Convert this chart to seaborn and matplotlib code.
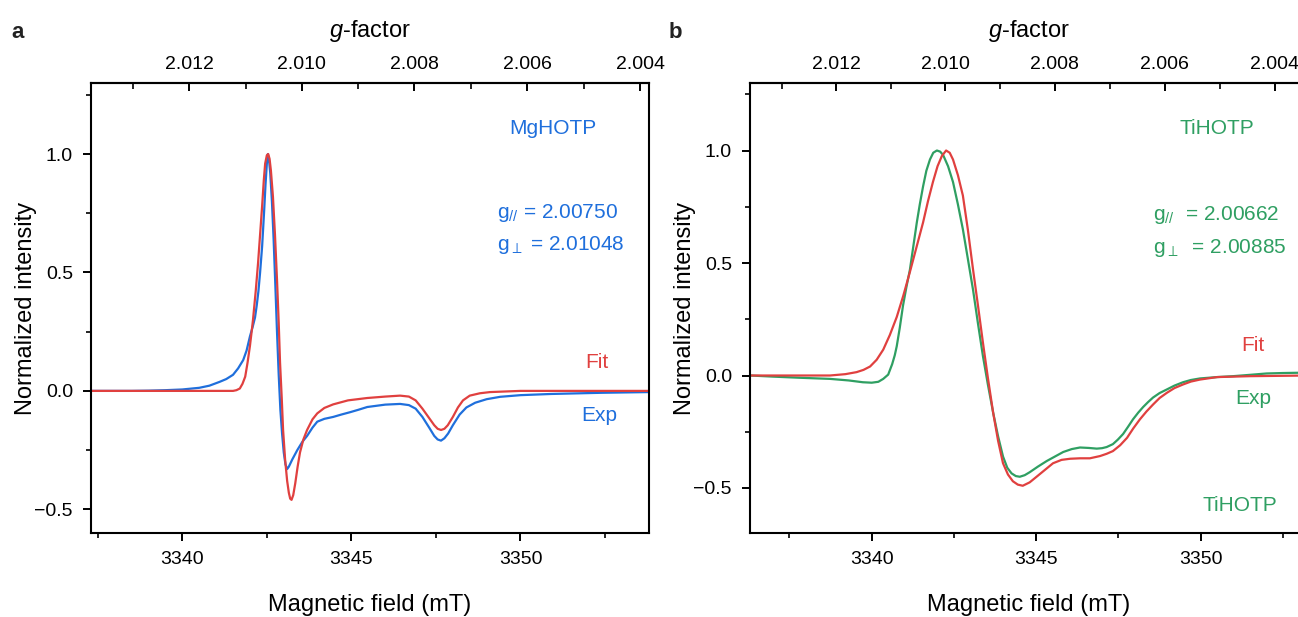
import numpy as np
import pandas as pd
import matplotlib
matplotlib.use("Agg")
import matplotlib.pyplot as plt
import seaborn as sns
from matplotlib.ticker import MultipleLocator, FixedLocator, FormatStrFormatter, FuncFormatter

# ---------------- data ----------------
# Panel a : MgHOTP, experiment
a_exp_field = [3337.3, 3338.5, 3339.0, 3339.5, 3340.0, 3340.5, 3340.8, 3341.1, 3341.3, 3341.5,
               3341.65, 3341.8, 3341.9, 3342.0, 3342.08, 3342.15, 3342.2, 3342.25, 3342.3,
               3342.36, 3342.42, 3342.46, 3342.5, 3342.53, 3342.56, 3342.6, 3342.65, 3342.7,
               3342.75, 3342.8, 3342.85, 3342.9, 3342.95, 3343.0, 3343.05, 3343.1, 3343.15,
               3343.25, 3343.4, 3343.55, 3343.69, 3343.85, 3343.99, 3344.2, 3344.46, 3344.7,
               3344.96, 3345.2, 3345.47, 3346.0, 3346.44, 3346.7, 3346.9, 3347.1, 3347.3,
               3347.45, 3347.55, 3347.65, 3347.75, 3347.86, 3348.0, 3348.2, 3348.4, 3348.66,
               3349.0, 3349.4, 3350.0, 3350.9, 3352.4, 3353.8]
a_exp_int = [0.0, 0.0, 0.001, 0.003, 0.006, 0.013, 0.022, 0.038, 0.05, 0.068,
             0.095, 0.13, 0.17, 0.23, 0.27, 0.31, 0.36, 0.42, 0.50,
             0.61, 0.76, 0.87, 0.96, 1.0, 0.98, 0.92, 0.80, 0.64,
             0.45, 0.25, 0.07, -0.08, -0.18, -0.26, -0.31, -0.33, -0.32,
             -0.29, -0.25, -0.215, -0.19, -0.155, -0.13, -0.118, -0.11, -0.10,
             -0.09, -0.08, -0.068, -0.058, -0.055, -0.06, -0.075, -0.11, -0.155,
             -0.19, -0.205, -0.21, -0.2, -0.18, -0.145, -0.10, -0.07, -0.05,
             -0.035, -0.025, -0.018, -0.013, -0.008, -0.005]

# Panel a : fit
a_fit_field = [3337.3, 3340.0, 3341.5, 3341.6, 3341.7, 3341.78, 3341.86, 3341.93, 3342.0,
               3342.05, 3342.09, 3342.17, 3342.24, 3342.3, 3342.36, 3342.41, 3342.45, 3342.5,
               3342.54, 3342.58, 3342.62, 3342.68, 3342.74, 3342.8, 3342.85, 3342.89, 3342.94,
               3342.98, 3343.04, 3343.1, 3343.15, 3343.19, 3343.23, 3343.28, 3343.34, 3343.41,
               3343.48, 3343.58, 3343.69, 3343.85, 3343.99, 3344.2, 3344.46, 3344.9, 3345.47,
               3346.0, 3346.44, 3346.7, 3346.9, 3347.1, 3347.3, 3347.45, 3347.55, 3347.65,
               3347.75, 3347.85, 3348.0, 3348.15, 3348.3, 3348.5, 3348.8, 3349.1, 3350.0, 3353.8]
a_fit_int = [0.0, 0.0, 0.0, 0.003, 0.01, 0.03, 0.06, 0.12, 0.19,
             0.25, 0.30, 0.42, 0.54, 0.66, 0.78, 0.89, 0.96, 0.995,
             1.0, 0.98, 0.93, 0.82, 0.66, 0.47, 0.29, 0.12, -0.03,
             -0.165, -0.29, -0.38, -0.43, -0.455, -0.46, -0.44, -0.39, -0.32,
             -0.26, -0.205, -0.165, -0.12, -0.095, -0.072, -0.057, -0.04, -0.03,
             -0.024, -0.02, -0.024, -0.04, -0.075, -0.115, -0.145, -0.16, -0.165,
             -0.16, -0.145, -0.11, -0.07, -0.04, -0.02, -0.01, -0.005, 0.0, 0.0]

# Panel b : TiHOTP, experiment
b_exp_field = [3336.3, 3337.0, 3337.8, 3338.73, 3339.3, 3339.73, 3340.0, 3340.2, 3340.35,
               3340.5, 3340.62, 3340.7, 3340.76, 3340.85, 3340.95, 3341.05, 3341.16, 3341.27,
               3341.37, 3341.46, 3341.56, 3341.66, 3341.77, 3341.87, 3341.98, 3342.08, 3342.17,
               3342.32, 3342.47, 3342.62, 3342.77, 3342.92, 3343.08, 3343.23, 3343.38, 3343.53,
               3343.69, 3343.84, 3343.99, 3344.12, 3344.25, 3344.38, 3344.5, 3344.65, 3344.8,
               3345.05, 3345.32, 3345.57, 3345.82, 3346.08, 3346.33, 3346.6, 3346.84, 3347.0,
               3347.14, 3347.33, 3347.48, 3347.64, 3347.79, 3347.94, 3348.1, 3348.25, 3348.4,
               3348.55, 3348.75, 3348.97, 3349.2, 3349.46, 3349.7, 3349.98, 3350.5, 3350.98,
               3351.5, 3352.0, 3352.5, 3353.3]
b_exp_int = [0.0, -0.005, -0.01, -0.015, -0.022, -0.03, -0.032, -0.028, -0.015,
             0.004, 0.05, 0.09, 0.13, 0.21, 0.31, 0.39, 0.47, 0.58,
             0.68, 0.76, 0.84, 0.91, 0.96, 0.99, 1.0, 0.995, 0.98,
             0.93, 0.86, 0.76, 0.65, 0.52, 0.38, 0.23, 0.086, -0.04,
             -0.165, -0.27, -0.36, -0.41, -0.435, -0.447, -0.45, -0.443, -0.43,
             -0.405, -0.38, -0.36, -0.34, -0.327, -0.32, -0.322, -0.325, -0.323,
             -0.318, -0.305, -0.285, -0.26, -0.228, -0.195, -0.165, -0.14, -0.118,
             -0.098, -0.078, -0.062, -0.045, -0.03, -0.02, -0.013, -0.007, -0.003,
             0.003, 0.009, 0.011, 0.013]

# Panel b : fit
b_fit_field = [3336.3, 3338.73, 3339.2, 3339.54, 3339.75, 3339.95, 3340.15, 3340.35, 3340.55,
               3340.76, 3340.96, 3341.16, 3341.36, 3341.56, 3341.71, 3341.86, 3342.0, 3342.13,
               3342.26, 3342.37, 3342.47, 3342.62, 3342.77, 3342.92, 3343.08, 3343.23, 3343.38,
               3343.53, 3343.69, 3343.84, 3343.99, 3344.14, 3344.29, 3344.44, 3344.59, 3344.8,
               3345.01, 3345.26, 3345.51, 3345.77, 3346.03, 3346.33, 3346.63, 3346.94, 3347.14,
               3347.33, 3347.55, 3347.76, 3347.95, 3348.15, 3348.35, 3348.55, 3348.75, 3348.97,
               3349.2, 3349.46, 3349.7, 3349.98, 3350.5, 3351.5, 3353.3]
b_fit_int = [0.0, 0.0, 0.006, 0.015, 0.025, 0.04, 0.07, 0.115, 0.18,
             0.26, 0.355, 0.46, 0.57, 0.68, 0.775, 0.86, 0.93, 0.975,
             1.0, 0.99, 0.96, 0.89, 0.80, 0.65, 0.47, 0.31, 0.146,
             -0.01, -0.165, -0.29, -0.39, -0.44, -0.47, -0.485, -0.49, -0.475,
             -0.45, -0.42, -0.39, -0.375, -0.37, -0.368, -0.368, -0.358, -0.348,
             -0.336, -0.31, -0.277, -0.235, -0.195, -0.16, -0.129, -0.1, -0.077,
             -0.056, -0.04, -0.027, -0.018, -0.007, -0.003, 0.0]

g_ticks = [2.012, 2.010, 2.008, 2.006, 2.004]
g_minor = [2.013, 2.011, 2.009, 2.007, 2.005, 2.003]
field_ticks = [3340, 3345, 3350]
# field (mT) * g = h*nu/muB  (constants of the two measurements)
C_a = 6720.5
C_b = 6717.9

# ---------------- style ----------------
sns.set_theme(style="ticks")
plt.rcParams["font.family"] = ["Liberation Sans", "DejaVu Sans"]
plt.rcParams["mathtext.fontset"] = "custom"
plt.rcParams["mathtext.rm"] = "Liberation Sans"
plt.rcParams["mathtext.it"] = "Liberation Sans:italic"
plt.rcParams["mathtext.bf"] = "Liberation Sans:bold"
plt.rcParams["text.color"] = "black"
plt.rcParams["axes.labelcolor"] = "black"
plt.rcParams["xtick.color"] = "black"
plt.rcParams["ytick.color"] = "black"

BLUE = "#1f6fdc"
RED = "#e0403f"
GREEN = "#2f9f62"

W, H = 1298, 617
fig = plt.figure(figsize=(W / 100, H / 100), dpi=100)

def px_axes(x0, x1, y0, y1):
    return fig.add_axes([x0 / W, 1 - y1 / H, (x1 - x0) / W, (y1 - y0) / H])

ax_a = px_axes(91, 649, 83, 533)
ax_b = px_axes(750, 1308, 83, 533)

minus_fmt = FuncFormatter(lambda v, p: f"{v:.1f}".replace("-", "\u2212"))

def style_axes(ax, xlim, ylim, C):
    ax.set_xlim(*xlim)
    ax.set_ylim(*ylim)
    ax.xaxis.set_major_locator(FixedLocator(field_ticks))
    ax.xaxis.set_minor_locator(MultipleLocator(2.5))
    ax.yaxis.set_major_locator(MultipleLocator(0.5))
    ax.yaxis.set_minor_locator(MultipleLocator(0.25))
    ax.yaxis.set_major_formatter(minus_fmt)
    for s in ax.spines.values():
        s.set_linewidth(1.5)
        s.set_color("black")
    ax.tick_params(which="major", direction="out", length=6, width=1.4, labelsize=14,
                   colors="black", pad=7)
    ax.tick_params(which="minor", direction="out", length=3.6, width=1.2, colors="black")
    ax.set_xlabel("Magnetic field (mT)", fontsize=17, labelpad=19)
    ax.set_ylabel("Normalized intensity", fontsize=17, labelpad=-2)
    sec = ax.secondary_xaxis("top", functions=(lambda B: C / B, lambda g: C / g))
    sec.xaxis.set_major_locator(FixedLocator(g_ticks))
    sec.xaxis.set_minor_locator(FixedLocator(g_minor))
    sec.xaxis.set_major_formatter(FormatStrFormatter("%.3f"))
    sec.tick_params(which="major", direction="in", length=6, width=1.4, labelsize=14,
                    colors="black", pad=7)
    sec.tick_params(which="minor", direction="in", length=4.5, width=1.2, colors="black")
    sec.spines["top"].set_linewidth(1.5)
    sec.set_xlabel("$g$-factor", fontsize=17, labelpad=14)
    return sec

def draw(ax, field, inten, color):
    df = pd.DataFrame({"field": field, "intensity": inten})
    sns.lineplot(data=df, x="field", y="intensity", ax=ax, color=color, lw=1.6,
                 estimator=None, sort=False)

draw(ax_a, a_exp_field, a_exp_int, BLUE)
draw(ax_a, a_fit_field, a_fit_int, RED)
style_axes(ax_a, (3337.3, 3353.8), (-0.6, 1.3), C_a)

draw(ax_b, b_exp_field, b_exp_int, GREEN)
draw(ax_b, b_fit_field, b_fit_int, RED)
style_axes(ax_b, (3336.3, 3353.26), (-0.7, 1.3), C_b)

# ---------------- annotations ----------------
def t(ax, x, y, s, color, ha="center"):
    ax.text(x, y, s, color=color, fontsize=15, ha=ha, va="center", transform=ax.transAxes)

t(ax_a, 0.828, 0.90, "MgHOTP", BLUE)
t(ax_a, 0.728, 0.711, "g$_{//}$ = 2.00750", BLUE, ha="left")
t(ax_a, 0.728, 0.640, r"g$_{\perp}$ = 2.01048", BLUE, ha="left")
t(ax_a, 0.907, 0.380, "Fit", RED)
t(ax_a, 0.910, 0.262, "Exp", BLUE)

t(ax_b, 0.837, 0.90, "TiHOTP", GREEN)
t(ax_b, 0.722, 0.707, "g$_{//}$  = 2.00662", GREEN, ha="left")
t(ax_b, 0.722, 0.633, r"g$_{\perp}$  = 2.00885", GREEN, ha="left")
t(ax_b, 0.901, 0.416, "Fit", RED)
t(ax_b, 0.901, 0.300, "Exp", GREEN)
t(ax_b, 0.878, 0.062, "TiHOTP", GREEN)

fig.text(18 / W, 1 - 32 / H, "a", fontsize=16, fontweight="bold", color="#222222",
         ha="center", va="center")
fig.text(675 / W, 1 - 32 / H, "b", fontsize=16, fontweight="bold", color="#222222",
         ha="center", va="center")

fig.savefig("out.png", dpi=100)
